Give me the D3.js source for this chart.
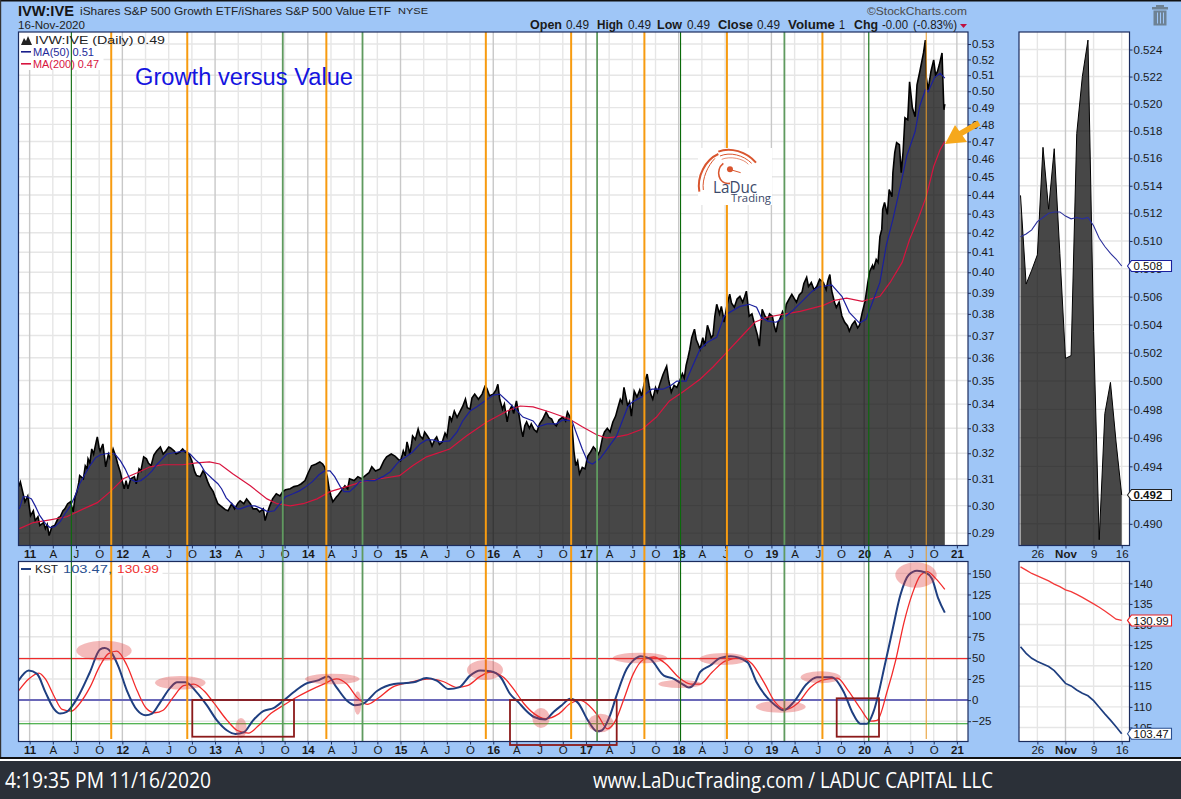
<!DOCTYPE html>
<html lang="en">

<head>
    <meta charset="utf-8">
    <title>IVW:IVE Growth versus Value</title>
    <script src="https://cdn.jsdelivr.net/npm/d3@7"></script>
    <style>
        body { margin: 0; background: #9fc6f7; overflow: hidden; }
        svg { display: block; font-family: "Liberation Sans", Arial, sans-serif; }
        .domain { display: none; }
    </style>
</head>

<body>
    <div id="chart"></div>

    <script>
        // [decimal year, value]
        const pricePoints = [
            [2010.88,.3071],[2010.90,.3089],[2010.95,.3014],[2010.98,.3036],[2011.01,.2963],[2011.04,.2981],[2011.06,.2945],[2011.09,.2959],[2011.11,.2927],[2011.15,.2938],[2011.17,.2916],[2011.19,.2931],[2011.21,.2891],[2011.24,.2923],[2011.27,.2927],[2011.31,.2956],[2011.33,.2959],[2011.36,.2981],[2011.38,.2988],[2011.41,.3007],[2011.44,.3014],[2011.47,.2977],[2011.49,.3033],[2011.51,.3052],[2011.53,.3086],[2011.54,.3113],[2011.58,.3101],[2011.60,.3151],[2011.62,.3139],[2011.63,.3178],[2011.65,.3162],[2011.67,.3217],[2011.69,.3197],[2011.72,.3249],[2011.73,.3265],[2011.75,.3221],[2011.76,.3209],[2011.79,.3237],[2011.81,.3178],[2011.82,.3147],[2011.85,.3197],[2011.87,.3178],[2011.90,.3217],[2011.93,.3186],[2011.95,.3158],[2011.98,.3124],
            [2012.00,.3090],[2012.02,.3063],[2012.04,.3094],[2012.06,.3063],[2012.09,.3101],[2012.13,.3109],[2012.15,.3082],[2012.18,.3139],[2012.20,.3131],[2012.23,.3186],[2012.26,.3178],[2012.28,.3162],[2012.31,.3151],[2012.34,.3193],[2012.37,.3209],[2012.41,.3225],[2012.44,.3197],[2012.47,.3209],[2012.50,.3225],[2012.52,.3221],[2012.56,.3209],[2012.58,.3197],[2012.62,.3205],[2012.65,.3217],[2012.68,.3205],[2012.72,.3197],[2012.75,.3170],[2012.78,.3128],[2012.80,.3113],[2012.84,.3109],[2012.87,.3131],[2012.89,.3120],[2012.92,.3090],[2012.94,.3074],[2012.98,.3052],
            [2013.00,.3033],[2013.03,.3007],[2013.07,.2996],[2013.11,.2985],[2013.14,.2981],[2013.18,.3007],[2013.21,.2988],[2013.25,.3011],[2013.27,.3018],[2013.31,.3007],[2013.34,.3025],[2013.38,.3007],[2013.41,.2988],[2013.45,.2988],[2013.48,.2977],[2013.52,.2988],[2013.54,.2945],[2013.56,.2970],[2013.59,.2999],[2013.62,.3025],[2013.66,.3044],[2013.70,.3036],[2013.73,.3052],[2013.76,.3059],[2013.81,.3063],[2013.85,.3071],[2013.89,.3074],[2013.93,.3082],[2013.97,.3094],
            [2014.00,.3120],[2014.04,.3151],[2014.09,.3158],[2014.13,.3166],[2014.16,.3158],[2014.18,.3147],[2014.21,.3109],[2014.23,.3063],[2014.25,.3036],[2014.27,.3014],[2014.31,.3033],[2014.32,.3036],[2014.36,.3055],[2014.40,.3074],[2014.43,.3063],[2014.45,.3101],[2014.50,.3094],[2014.54,.3109],[2014.58,.3101],[2014.62,.3113],[2014.66,.3124],[2014.69,.3147],[2014.73,.3131],[2014.78,.3139],[2014.82,.3170],[2014.85,.3186],[2014.90,.3197],[2014.94,.3189],[2014.97,.3178],
            [2015.00,.3170],[2015.02,.3195],[2015.03,.3209],[2015.05,.3190],[2015.07,.3245],[2015.09,.3215],[2015.10,.3197],[2015.12,.3240],[2015.13,.3269],[2015.16,.3255],[2015.19,.3297],[2015.21,.3270],[2015.24,.3257],[2015.26,.3285],[2015.29,.3269],[2015.32,.3250],[2015.34,.3229],[2015.37,.3255],[2015.39,.3265],[2015.42,.3235],[2015.45,.3245],[2015.48,.3280],[2015.50,.3265],[2015.52,.3320],[2015.53,.3350],[2015.55,.3330],[2015.58,.3371],[2015.61,.3345],[2015.64,.3367],[2015.67,.3390],[2015.70,.3421],[2015.72,.3385],[2015.75,.3379],[2015.77,.3425],[2015.80,.3442],[2015.84,.3420],[2015.88,.3442],[2015.91,.3475],[2015.93,.3467],[2015.96,.3435],
            [2016.00,.3442],[2016.03,.3460],[2016.05,.3484],[2016.07,.3420],[2016.10,.3379],[2016.12,.3400],[2016.15,.3326],[2016.17,.3370],[2016.20,.3392],[2016.22,.3360],[2016.25,.3413],[2016.28,.3350],[2016.30,.3300],[2016.32,.3265],[2016.34,.3310],[2016.36,.3326],[2016.39,.3300],[2016.41,.3318],[2016.44,.3295],[2016.47,.3285],[2016.50,.3318],[2016.53,.3335],[2016.57,.3367],[2016.60,.3345],[2016.63,.3338],[2016.65,.3320],[2016.68,.3310],[2016.71,.3335],[2016.75,.3346],[2016.78,.3330],[2016.80,.3367],[2016.83,.3345],[2016.85,.3310],[2016.87,.3209],[2016.89,.3151],[2016.91,.3170],[2016.93,.3120],[2016.96,.3145],[2016.99,.3139],
            [2017.02,.3189],[2017.05,.3205],[2017.08,.3225],[2017.10,.3217],[2017.13,.3195],[2017.15,.3209],[2017.18,.3265],[2017.20,.3285],[2017.23,.3300],[2017.26,.3285],[2017.29,.3326],[2017.32,.3350],[2017.34,.3379],[2017.37,.3420],[2017.39,.3405],[2017.41,.3471],[2017.43,.3430],[2017.45,.3392],[2017.47,.3410],[2017.49,.3350],[2017.51,.3420],[2017.52,.3455],[2017.55,.3430],[2017.58,.3460],[2017.60,.3434],[2017.63,.3490],[2017.66,.3528],[2017.68,.3480],[2017.70,.3440],[2017.72,.3421],[2017.75,.3470],[2017.77,.3450],[2017.80,.3490],[2017.83,.3525],[2017.87,.3563],[2017.89,.3505],[2017.92,.3450],[2017.95,.3480],[2017.98,.3470],
            [2018.01,.3498],[2018.04,.3530],[2018.06,.3510],[2018.08,.3566],[2018.10,.3600],[2018.12,.3638],[2018.14,.3690],[2018.17,.3729],[2018.19,.3680],[2018.21,.3660],[2018.23,.3638],[2018.26,.3690],[2018.28,.3652],[2018.31,.3747],[2018.33,.3720],[2018.35,.3690],[2018.37,.3701],[2018.39,.3790],[2018.41,.3845],[2018.44,.3800],[2018.46,.3835],[2018.48,.3790],[2018.49,.3761],[2018.52,.3840],[2018.55,.3893],[2018.57,.3850],[2018.60,.3831],[2018.63,.3870],[2018.66,.3883],[2018.69,.3855],[2018.71,.3880],[2018.73,.3908],[2018.75,.3830],[2018.76,.3789],[2018.79,.3800],[2018.82,.3747],[2018.85,.3700],[2018.87,.3652],[2018.89,.3760],[2018.90,.3821],[2018.93,.3790],[2018.96,.3775],[2018.98,.3800],
            [2019.01,.3789],[2019.03,.3745],[2019.05,.3715],[2019.07,.3760],[2019.09,.3775],[2019.12,.3810],[2019.14,.3790],[2019.16,.3845],[2019.19,.3870],[2019.22,.3893],[2019.25,.3870],[2019.27,.3855],[2019.30,.3890],[2019.33,.3903],[2019.35,.3945],[2019.38,.3975],[2019.40,.3930],[2019.43,.3950],[2019.46,.3915],[2019.49,.3931],[2019.52,.3965],[2019.56,.3950],[2019.59,.3915],[2019.61,.3960],[2019.63,.3989],[2019.65,.3910],[2019.68,.3855],[2019.70,.3830],[2019.73,.3855],[2019.76,.3790],[2019.79,.3761],[2019.82,.3745],[2019.84,.3720],[2019.87,.3750],[2019.90,.3766],[2019.93,.3735],[2019.95,.3747],[2019.98,.3807],
            [2020.01,.3860],[2020.04,.3950],[2020.06,.4004],[2020.09,.4034],[2020.10,.4014],[2020.13,.4064],[2020.15,.4049],[2020.17,.4180],[2020.19,.4217],[2020.20,.4322],[2020.22,.4359],[2020.25,.4296],[2020.27,.4429],[2020.30,.4391],[2020.31,.4523],[2020.33,.4636],[2020.35,.4693],[2020.38,.4681],[2020.40,.4523],[2020.42,.4641],[2020.44,.4839],[2020.47,.4827],[2020.49,.5058],[2020.52,.4899],[2020.55,.4845],[2020.57,.5040],[2020.60,.5122],[2020.64,.5242],[2020.66,.5326],[2020.67,.5087],[2020.69,.5009],[2020.72,.5122],[2020.75,.5197],[2020.77,.5100],[2020.79,.5122],[2020.81,.5164],[2020.84,.5242],[2020.85,.5053],[2020.86,.4887],[2020.87,.4922]
        ];

        const ma50Points = [
            [2010.89,.2988],[2010.93,.3033],[2010.97,.3033],[2011.02,.3025],[2011.06,.2999],[2011.11,.2963],[2011.17,.2934],[2011.22,.2920],[2011.27,.2923],[2011.33,.2941],[2011.38,.2970],[2011.44,.2999],[2011.49,.3036],[2011.54,.3082],[2011.60,.3120],[2011.65,.3151],[2011.71,.3182],[2011.76,.3193],[2011.81,.3197],[2011.87,.3201],[2011.92,.3197],[2011.98,.3170],
            [2012.03,.3139],[2012.08,.3101],[2012.14,.3090],[2012.20,.3094],[2012.27,.3113],[2012.32,.3131],[2012.37,.3155],[2012.43,.3178],[2012.48,.3197],[2012.54,.3201],[2012.60,.3205],[2012.68,.3209],[2012.73,.3197],[2012.79,.3174],[2012.84,.3158],[2012.89,.3128],[2012.97,.3101],
            [2013.03,.3082],[2013.07,.3063],[2013.12,.3029],[2013.18,.3007],[2013.24,.2988],[2013.27,.2988],[2013.36,.2999],[2013.43,.2999],[2013.51,.2988],[2013.57,.2977],[2013.64,.2981],[2013.70,.3007],[2013.76,.3033],[2013.84,.3044],[2013.91,.3055],[2013.98,.3071],
            [2014.05,.3090],[2014.12,.3116],[2014.18,.3131],[2014.24,.3131],[2014.29,.3109],[2014.35,.3071],[2014.39,.3052],[2014.45,.3052],[2014.51,.3071],[2014.56,.3090],[2014.64,.3094],[2014.72,.3094],[2014.81,.3109],[2014.89,.3128],[2014.96,.3158],[2014.99,.3170],
            [2015.07,.3189],[2015.13,.3205],[2015.21,.3237],[2015.28,.3253],[2015.35,.3253],[2015.42,.3245],[2015.53,.3249],[2015.61,.3285],[2015.67,.3330],[2015.75,.3371],[2015.82,.3388],[2015.91,.3413],
            [2016.00,.3438],[2016.07,.3442],[2016.15,.3413],[2016.24,.3379],[2016.32,.3346],[2016.43,.3330],[2016.48,.3306],[2016.58,.3318],[2016.68,.3318],[2016.75,.3334],[2016.85,.3330],[2016.90,.3277],[2016.96,.3217],
            [2017.02,.3166],[2017.07,.3158],[2017.15,.3178],[2017.23,.3217],[2017.33,.3269],[2017.40,.3338],[2017.45,.3388],[2017.50,.3409],[2017.60,.3430],[2017.71,.3463],[2017.83,.3463],[2017.90,.3475],[2017.98,.3498],
            [2018.08,.3498],[2018.15,.3563],[2018.23,.3638],[2018.31,.3669],[2018.41,.3692],[2018.49,.3789],[2018.55,.3807],[2018.66,.3835],[2018.76,.3845],[2018.84,.3831],[2018.89,.3784],[2018.96,.3766],
            [2019.05,.3761],[2019.14,.3784],[2019.22,.3812],[2019.33,.3859],[2019.44,.3908],[2019.51,.3928],[2019.65,.3938],[2019.76,.3883],[2019.84,.3807],[2019.95,.3757],
            [2020.02,.3775],[2020.09,.3855],[2020.17,.3950],[2020.24,.4138],[2020.31,.4269],[2020.39,.4445],[2020.46,.4617],[2020.55,.4758],[2020.60,.4910],[2020.66,.5009],[2020.69,.4997],[2020.76,.5087],[2020.82,.5112],[2020.87,.5082]
        ];

        const ma200Points = [
            [2010.89,.2916],[2011.04,.2938],[2011.22,.2948],[2011.40,.2959],[2011.58,.2988],[2011.73,.3011],[2011.87,.3052],[2012.01,.3101],[2012.16,.3124],[2012.30,.3147],[2012.44,.3155],[2012.65,.3155],[2012.80,.3162],[2012.94,.3166],[2013.05,.3158],[2013.19,.3120],[2013.38,.3074],[2013.56,.3025],[2013.67,.3007],[2013.81,.2999],[2013.95,.3007],[2014.10,.3025],[2014.24,.3052],[2014.42,.3071],[2014.59,.3090],[2014.78,.3101],[2014.99,.3113],[2015.13,.3151],[2015.28,.3186],[2015.53,.3217],[2015.71,.3269],[2015.93,.3326],[2016.15,.3371],[2016.29,.3392],[2016.43,.3388],[2016.61,.3367],[2016.82,.3338],[2016.96,.3306],[2017.12,.3273],[2017.22,.3261],[2017.33,.3265],[2017.44,.3273],[2017.61,.3297],[2017.76,.3346],[2017.90,.3413],[2018.04,.3450],[2018.23,.3506],[2018.37,.3559],[2018.52,.3625],[2018.69,.3701],[2018.82,.3761],[2018.95,.3784],[2019.12,.3798],[2019.31,.3812],[2019.56,.3840],[2019.68,.3864],[2019.81,.3874],[2019.98,.3859],[2020.17,.3883],[2020.28,.3950],[2020.41,.4049],[2020.49,.4165],[2020.58,.4269],[2020.67,.4391],[2020.75,.4557],[2020.82,.4653],[2020.87,.4700]
        ];

        const kstPoints = [
            [2010.88,23],[2010.99,35],[2011.08,31],[2011.17,9.5],[2011.26,-10],[2011.33,-16],[2011.40,-14],[2011.51,1.6],[2011.65,33],[2011.76,60],[2011.81,61.6],[2011.89,55],[2011.96,39],[2012.05,11],[2012.16,-12],[2012.25,-18],[2012.32,-16],[2012.41,-2.4],[2012.52,15],[2012.59,21],[2012.68,21],[2012.80,9.5],[2012.91,-6],[2013.02,-24],[2013.13,-36],[2013.22,-40],[2013.31,-38],[2013.41,-24],[2013.52,-13],[2013.63,-9.5],[2013.74,-.4],[2013.85,9.5],[2013.97,19],[2014.10,23],[2014.22,28],[2014.31,15],[2014.42,-.4],[2014.51,-6],[2014.60,-4],[2014.75,11],[2014.93,19],[2015.14,21],[2015.28,26],[2015.39,23],[2015.52,13],[2015.63,15],[2015.75,29],[2015.86,35],[2015.97,34],
            [2016.08,27],[2016.18,7.5],[2016.27,-2.4],[2016.35,-12],[2016.44,-20],[2016.56,-23],[2016.65,-14],[2016.74,-6],[2016.83,1.6],[2016.92,-4],[2017.01,-22],[2017.12,-37],[2017.17,-36],[2017.26,-18],[2017.33,5.5],[2017.44,37],[2017.51,47],[2017.59,52],[2017.69,49],[2017.84,29],[2017.93,26],[2018.04,19],[2018.11,15],[2018.18,21],[2018.23,33],[2018.34,41],[2018.45,50],[2018.56,52],[2018.74,45],[2018.84,21],[2018.95,3.5],[2019.04,-6],[2019.13,-12],[2019.24,-2.4],[2019.38,19],[2019.49,27],[2019.65,27],[2019.78,9.5],[2019.87,-14],[2019.96,-28],[2020.03,-28],[2020.10,-14],[2020.23,45],[2020.30,80],[2020.39,124],[2020.48,148],[2020.57,153],[2020.66,151],[2020.73,144],[2020.80,120],[2020.87,103.47]
        ];

        const signalPoints = [
            [2010.88,11],[2010.99,25],[2011.10,32],[2011.17,25],[2011.26,5.5],[2011.35,-11],[2011.45,-13],[2011.54,-4],[2011.65,15],[2011.76,41],[2011.85,55],[2011.94,58],[2012.05,41],[2012.16,11],[2012.26,-10],[2012.35,-15],[2012.44,-12],[2012.55,3.5],[2012.66,17],[2012.77,19],[2012.88,11],[2012.98,-2.4],[2013.13,-24],[2013.24,-36],[2013.36,-39],[2013.47,-30],[2013.60,-16],[2013.74,-6],[2013.85,1.6],[2014.01,11],[2014.17,19],[2014.31,25],[2014.42,19],[2014.53,3.5],[2014.64,-5],[2014.75,1.6],[2014.91,15],[2015.10,21],[2015.32,25],[2015.46,22],[2015.61,15],[2015.72,17],[2015.86,28],[2015.97,33],
            [2016.11,27],[2016.22,13],[2016.33,-4],[2016.44,-16],[2016.56,-22],[2016.71,-16],[2016.83,-4],[2016.94,-.4],[2017.03,-6],[2017.14,-20],[2017.23,-34],[2017.32,-24],[2017.41,1.6],[2017.51,31],[2017.62,48],[2017.73,51],[2017.86,43],[2018.00,27],[2018.13,19],[2018.23,19],[2018.36,33],[2018.50,46],[2018.67,50],[2018.79,43],[2018.92,21],[2019.04,-2.4],[2019.15,-11],[2019.28,-4],[2019.42,15],[2019.56,24],[2019.71,26],[2019.83,11],[2019.96,-10],[2020.07,-25],[2020.14,-24],[2020.25,11],[2020.34,47],[2020.43,92],[2020.52,126],[2020.61,148],[2020.68,152],[2020.77,144],[2020.87,130.99]
        ];

        const kstUpper = 49;
        const kstZero = 0;
        const kstLower = -28;

        const orangeYears = [2011.88, 2012.70, 2014.20, 2015.92, 2016.84, 2017.63, 2018.52, 2019.55];
        const lastOrangeYear = 2020.67;
        const darkGreenYears = [2011.45, 2018.02, 2020.05];
        const paleGreenYears = [2013.73, 2014.59, 2017.12, 2019.14];

        const tickLabels = [
            "11","A","J","O","12","A","J","O","13","A","J","O","14","A","J","O","15","A","J","O",
            "16","A","J","O","17","A","J","O","18","A","J","O","19","A","J","O","20","A","J","O","21"
        ];
        const priceTicks = [.29,.30,.31,.32,.33,.34,.35,.36,.37,.38,.39,.40,.41,.42,.43,.44,.45,.46,.47,.48,.49,.50,.51,.52,.53];
        const kstTicks = [-25,0,25,50,75,100,125,150];

        // zoomed window, last 19 trading days
        const insetDays = ["Oct 21","Oct 22","Oct 23","Oct 26","Oct 27","Oct 28","Oct 29","Oct 30","Nov 2","Nov 3","Nov 4","Nov 5","Nov 6","Nov 9","Nov 10","Nov 11","Nov 12","Nov 13","Nov 16"];
        const insetPrice = [.5133,.5069,.5079,.5090,.5168,.5123,.5167,.5091,.5016,.5018,.5178,.5220,.5247,.5035,.4889,.4977,.4999,.4957,.4920];
        const insetMa50 = [.5103,.5105,.5108,.5114,.5117,.5120,.5121,.5121,.5118,.5116,.5117,.5116,.5117,.5111,.5102,.5096,.5091,.5087,.5082];
        const insetKst = [124.6,123,121.8,121,120.4,119.8,118.8,117.3,115.7,115.1,114.1,113.3,112.7,111.5,109.9,108.3,106.8,105.2,103.47];
        const insetSignal = [144,143.2,142.4,141.8,141.2,140.6,139.8,139.2,138.4,138,137.3,136.6,135.8,135,134.2,133.3,132.3,131.3,130.99];
        const insetTickDays = ["Oct 26","Nov 2","Nov 9","Nov 16"];
        const insetTickLabels = ["26","Nov","9","16"];
        const insetPriceTicks = [.490,.492,.494,.496,.498,.500,.502,.504,.506,.508,.510,.512,.514,.516,.518,.520,.522,.524];
        const insetKstTicks = [105,110,115,120,125,130,135,140];

        const width = 1181;
        const height = 799;
        const frameColor = "#1b2c5e";
        const left = 18.5, right = 968, insetLeft = 1019, insetRight = 1129.5;
        const priceTop = 32, priceBottom = 545.5, kstTop = 561.5, kstBottom = 741.5;

        const x = d3.scaleLinear().domain([2010.88, 2021.12]).range([left, right]);
        const yPrice = d3.scaleLog().domain([.2856, .5379]).range([priceBottom, priceTop]);
        const yKst = d3.scaleLinear().domain([-49, 164]).range([kstBottom, kstTop]);
        const xInset = d3.scalePoint().domain(insetDays).range([1020.5, 1121.7]);
        const yInsetPrice = d3.scaleLog().domain([.4885, .5253]).range([priceBottom, priceTop]);
        const yInsetKst = d3.scaleLinear().domain([101.6, 145.3]).range([kstBottom, kstTop]);
        const tickYears = tickLabels.map((d, i) => 2011 + i / 4);

        const svg = d3.select("#chart").append("svg")
            .attr("width", width).attr("height", height);

        svg.append("rect").attr("width", width).attr("height", height).attr("fill", "#9fc6f7");
        svg.append("rect").attr("width", width).attr("height", 1.5).attr("fill", "#111");
        svg.append("rect").attr("width", 1.2).attr("height", 758).attr("fill", "#333");

        const defs = svg.append("defs");
        function clip(id, x0, y0, x1, y1) {
            defs.append("clipPath").attr("id", id).append("rect")
                .attr("x", x0).attr("y", y0).attr("width", x1 - x0).attr("height", y1 - y0);
        }
        clip("clipPrice", left, priceTop, right, priceBottom);
        clip("clipKst", left, kstTop, right, kstBottom);
        clip("clipInsetPrice", insetLeft, priceTop, insetRight, priceBottom);
        clip("clipInsetKst", insetLeft, kstTop, insetRight, kstBottom);

        // white panels and grid
        function panel(x0, y0, x1, y1, xTicks, xPos, yTicks, yPos) {
            const g = svg.append("g");
            g.append("rect").attr("x", x0).attr("y", y0).attr("width", x1 - x0).attr("height", y1 - y0).attr("fill", "white");
            g.selectAll(".h").data(yTicks).enter().append("line")
                .attr("x1", x0).attr("x2", x1)
                .attr("y1", yPos).attr("y2", yPos)
                .attr("stroke", "#e6e6e6").attr("stroke-width", 1.4);
            g.selectAll(".v").data(xTicks).enter().append("line")
                .attr("x1", d => xPos(d)).attr("x2", d => xPos(d))
                .attr("y1", y0).attr("y2", y1)
                .attr("stroke", (d, i) => xPos.bold(d, i) ? "#c8c8c8" : "#e6e6e6").attr("stroke-width", 1.4);
        }
        const xGrid = d => x(d);
        xGrid.bold = (d, i) => i % 4 === 0;
        const xGridInset = d => xInset(d);
        xGridInset.bold = d => d === "Nov 2";
        panel(left, priceTop, right, priceBottom, tickYears, xGrid, priceTicks, yPrice);
        panel(left, kstTop, right, kstBottom, tickYears, xGrid, kstTicks, yKst);
        panel(insetLeft, priceTop, insetRight, priceBottom, insetTickDays, xGridInset, insetPriceTicks, yInsetPrice);
        panel(insetLeft, kstTop, insetRight, kstBottom, insetTickDays, xGridInset, insetKstTicks, yInsetKst);

        // white patches behind the legends
        svg.append("rect").attr("x", left).attr("y", priceTop).attr("width", 85).attr("height", 38).attr("fill", "white");
        svg.append("rect").attr("x", left).attr("y", kstTop).attr("width", 144).attr("height", 14).attr("fill", "white");

        // main price area
        const mainPlot = svg.append("g").attr("clip-path", "url(#clipPrice)");
        mainPlot.append("path").datum(pricePoints)
            .attr("d", d3.area().x(d => x(d[0])).y0(priceBottom).y1(d => yPrice(d[1])))
            .attr("fill", "black").attr("fill-opacity", .72);
        mainPlot.append("path").datum(pricePoints)
            .attr("d", d3.line().x(d => x(d[0])).y(d => yPrice(d[1])))
            .attr("fill", "none").attr("stroke", "black").attr("stroke-width", 1.6);

        // KST horizontal levels
        svg.append("g").selectAll("line")
            .data([[kstUpper, "#ee2b2b", 1.2], [kstZero, "#6a68b8", 2], [kstLower, "#1c9a1c", 1.2]])
            .enter().append("line")
            .attr("x1", left).attr("x2", right)
            .attr("y1", d => yKst(d[0])).attr("y2", d => yKst(d[0]))
            .attr("stroke", d => d[1]).attr("stroke-width", d => d[2]);

        // axes
        function styleLabels(g, size) {
            g.selectAll("text").attr("font-size", size).attr("fill", "#1a1a1a");
            g.selectAll(".tick line").attr("stroke", frameColor);
        }
        function timeAxis(y) {
            const g = svg.append("g").attr("transform", `translate(0,${y})`)
                .call(d3.axisBottom(x).tickValues(tickYears).tickFormat((d, i) => tickLabels[i]).tickSize(3).tickPadding(1));
            styleLabels(g, 11.5);
            g.selectAll("text").attr("font-weight", (d, i) => i % 4 === 0 ? "bold" : "normal");
        }
        timeAxis(priceBottom);
        timeAxis(kstBottom);

        function insetTimeAxis(y) {
            const g = svg.append("g").attr("transform", `translate(0,${y})`)
                .call(d3.axisBottom(xInset).tickValues(insetTickDays)
                    .tickFormat((d, i) => insetTickLabels[i]).tickSize(3).tickPadding(1));
            styleLabels(g, 11.5);
            g.selectAll("text").attr("font-weight", d => d === "Nov 2" ? "bold" : "normal");
        }
        insetTimeAxis(priceBottom);
        insetTimeAxis(kstBottom);

        function valueAxis(xPos, scale, ticks, fmt, size) {
            const g = svg.append("g").attr("transform", `translate(${xPos},0)`)
                .call(d3.axisRight(scale).tickValues(ticks).tickFormat(fmt).tickSize(3).tickPadding(1));
            styleLabels(g, size);
        }
        valueAxis(right, yPrice, priceTicks, d3.format(".2f"), 11.5);
        valueAxis(right, yKst, kstTicks, d3.format("d"), 11.5);
        valueAxis(insetRight, yInsetPrice, insetPriceTicks, d3.format(".3f"), 11.5);
        valueAxis(insetRight, yInsetKst, insetKstTicks, d3.format("d"), 11.5);

        // moving averages
        const line = d3.line().x(d => x(d[0]));
        mainPlot.append("path").datum(ma200Points)
            .attr("d", line.y(d => yPrice(d[1])))
            .attr("fill", "none").attr("stroke", "#d8143f").attr("stroke-width", 1.2);
        mainPlot.append("path").datum(ma50Points)
            .attr("d", line.y(d => yPrice(d[1])))
            .attr("fill", "none").attr("stroke", "#1a1f9c").attr("stroke-width", 1.2);

        // KST
        const kstPlot = svg.append("g").attr("clip-path", "url(#clipKst)");
        const kstLine = d3.line().x(d => x(d[0])).y(d => yKst(d[1])).curve(d3.curveMonotoneX);
        kstPlot.append("path").datum(signalPoints).attr("d", kstLine)
            .attr("fill", "none").attr("stroke", "#f32a2a").attr("stroke-width", 1.3);
        kstPlot.append("path").datum(kstPoints).attr("d", kstLine)
            .attr("fill", "none").attr("stroke", "#1f3f80").attr("stroke-width", 2);

        // vertical marker lines
        function marker(year, color, w, opacity, bottom) {
            svg.append("line")
                .attr("x1", x(year)).attr("x2", x(year))
                .attr("y1", priceTop).attr("y2", bottom)
                .attr("stroke", color).attr("stroke-width", w).attr("stroke-opacity", opacity);
        }
        orangeYears.forEach(d => marker(d, "#f79b10", 2, 1, 739));
        marker(lastOrangeYear, "#e89a2a", 1.2, .85, 739);
        darkGreenYears.forEach(d => marker(d, "#0a6a0a", 1.1, 1, 742));
        paleGreenYears.forEach(d => marker(d, "#5f9a5f", 1.8, 1, 742));

        // hand drawn notes on the KST panel
        const ellipses = [
            [104,650.7,27.7,10],[180.3,682.7,25.3,6.7],[241,728,5.7,10],[332.3,679,27.3,5.3],[357.7,703,3.7,11.7],
            [485,670,18,10],[541,718,8.7,10],[600.7,723,12.7,9.3],[640,658,27.3,5.3],[680,684,21.7,4],
            [723.3,659,24,6],[780.7,706.7,25,6],[820.7,677.3,20,6],[916,575,20.7,12.7]
        ];
        svg.append("g").selectAll("ellipse").data(ellipses).enter().append("ellipse")
            .attr("cx", d => d[0]).attr("cy", d => d[1]).attr("rx", d => d[2]).attr("ry", d => d[3])
            .attr("fill", "#e03a3a").attr("fill-opacity", .35);

        const boxes = [[192.3,700,294,736.7],[510,700,616.7,745],[836.7,698.3,879,736.7]];
        svg.append("g").selectAll("rect").data(boxes).enter().append("rect")
            .attr("x", d => d[0]).attr("y", d => d[1])
            .attr("width", d => d[2] - d[0]).attr("height", d => d[3] - d[1])
            .attr("fill", "none").attr("stroke", "#8c1a1a").attr("stroke-width", 1.8);

        // insets
        const insetPricePlot = svg.append("g").attr("clip-path", "url(#clipInsetPrice)");
        insetPricePlot.append("path").datum(insetPrice)
            .attr("d", d3.area().x((d, i) => xInset(insetDays[i])).y0(priceBottom).y1(d => yInsetPrice(d)))
            .attr("fill", "black").attr("fill-opacity", .72);
        insetPricePlot.append("path").datum(insetPrice)
            .attr("d", d3.line().x((d, i) => xInset(insetDays[i])).y(d => yInsetPrice(d)))
            .attr("fill", "none").attr("stroke", "black").attr("stroke-width", 1);
        insetPricePlot.append("path").datum(insetMa50)
            .attr("d", d3.line().x((d, i) => xInset(insetDays[i])).y(d => yInsetPrice(d)))
            .attr("fill", "none").attr("stroke", "#2a2f9c").attr("stroke-width", 1.1);

        const insetKstPlot = svg.append("g").attr("clip-path", "url(#clipInsetKst)");
        insetKstPlot.append("path").datum(insetSignal)
            .attr("d", d3.line().x((d, i) => xInset(insetDays[i])).y(d => yInsetKst(d)))
            .attr("fill", "none").attr("stroke", "#f33a3a").attr("stroke-width", 1.3);
        insetKstPlot.append("path").datum(insetKst)
            .attr("d", d3.line().x((d, i) => xInset(insetDays[i])).y(d => yInsetKst(d)))
            .attr("fill", "none").attr("stroke", "#1f3f80").attr("stroke-width", 1.7);

        // panel frames
        [[left, priceTop, right, priceBottom], [left, kstTop, right, kstBottom],
         [insetLeft, priceTop, insetRight, priceBottom], [insetLeft, kstTop, insetRight, kstBottom]].forEach(d => {
            svg.append("rect").attr("x", d[0]).attr("y", d[1]).attr("width", d[2] - d[0]).attr("height", d[3] - d[1])
                .attr("fill", "none").attr("stroke", frameColor).attr("stroke-width", 1.2);
        });

        // last value tags
        function tag(y, label, color, bold) {
            const g = svg.append("g").attr("transform", `translate(1127.5,${y})`);
            g.append("path").attr("d", "M0,0 L4,-5.5 H44 V5.5 H4 Z")
                .attr("fill", "white").attr("stroke", color).attr("stroke-width", 1.1);
            g.append("text").attr("x", 6).attr("y", 4.2).attr("font-size", 11.5)
                .attr("font-weight", bold ? "bold" : "normal").attr("fill", "#111").text(label);
        }
        tag(yInsetPrice(insetMa50[18]), "0.508", "#1a1f9c", false);
        tag(yInsetPrice(insetPrice[18]), "0.492", "#222", true);
        tag(yInsetKst(insetSignal[18]), "130.99", "#ee2222", false);
        tag(yInsetKst(insetKst[18]), "103.47", "#2a4f90", false);

        // text helper
        function text(xp, yp, str, size, color, opts) {
            const t = svg.append("text").attr("x", xp).attr("y", yp)
                .attr("font-size", size).attr("fill", color).text(str);
            if (opts && opts.bold) t.attr("font-weight", "bold");
            if (opts && opts.len) t.attr("textLength", opts.len).attr("lengthAdjust", "spacingAndGlyphs");
            if (opts && opts.family) t.attr("font-family", opts.family);
            return t;
        }

        // header
        text(18, 16, "IVW:IVE", 15, "#151515", { bold: true, len: 56 });
        text(80, 15, "iShares S&P 500 Growth ETF/iShares S&P 500 Value ETF", 11.5, "#222", { len: 311 });
        text(398, 14, "NYSE", 9, "#222", { len: 30 });
        text(18, 29, "16-Nov-2020", 10.5, "#222", { len: 67 });
        text(867, 15, "©StockCharts.com", 11, "#4a4a4a", { len: 100 });

        const quote = [
            [530, "Open", true, 32], [566, "0.49", false, 23], [597, "High", true, 26], [628, "0.49", false, 23],
            [657, "Low", true, 25], [687, "0.49", false, 23], [718, "Close", true, 35], [757, "0.49", false, 23],
            [788, "Volume", true, 47], [839, "1", false, 6], [854, "Chg", true, 24], [882, "-0.00", false, 26], [913, "(-0.83%)", false, 44]
        ];
        quote.forEach(d => text(d[0], 29, d[1], 12, "#1a1a1a", { bold: d[2], len: d[3] }));
        svg.append("path").attr("d", "M960,24 H967 L963.5,28 Z").attr("fill", "#c01040");

        // trash icon
        const trash = svg.append("g").attr("fill", "#6e8294");
        trash.append("rect").attr("x", 1156).attr("y", 5).attr("width", 8).attr("height", 2);
        trash.append("rect").attr("x", 1152).attr("y", 7).attr("width", 16).attr("height", 2.5);
        trash.append("rect").attr("x", 1153.5).attr("y", 10.5).attr("width", 13).attr("height", 15);
        [1157, 1160, 1163].forEach(d => {
            svg.append("rect").attr("x", d).attr("y", 12.5).attr("width", 1).attr("height", 11).attr("fill", "#9fc6f7");
        });

        // legends
        svg.append("path").attr("d", "M21,45 L24,38 L26,41 L28,36 L32,45 Z").attr("fill", "#222");
        text(35, 44, "IVW:IVE (Daily) 0.49", 11.5, "#222", { len: 130 });
        svg.append("rect").attr("x", 21).attr("y", 51).attr("width", 10).attr("height", 1.6).attr("fill", "#1a1f8c");
        text(33, 56, "MA(50) 0.51", 10.5, "#1e2a9a", { len: 61 });
        svg.append("rect").attr("x", 21).attr("y", 63).attr("width", 10).attr("height", 1.6).attr("fill", "#d8143f");
        text(33, 68, "MA(200) 0.47", 10.5, "#d8143f", { len: 66 });
        text(135, 85, "Growth versus Value", 23, "#1414e0", { len: 218 });

        svg.append("rect").attr("x", 21).attr("y", 568).attr("width", 10).attr("height", 2).attr("fill", "#1f3f80");
        text(35, 573, "KST", 11, "#222", { len: 23 });
        text(63, 573, "103.47,", 11, "#2a5090", { len: 49 });
        text(117, 573, "130.99", 11, "#f03030", { len: 42 });

        // orange arrow pointing at the 200 day average
        svg.append("line").attr("x1", 979).attr("y1", 123).attr("x2", 958).attr("y2", 135)
            .attr("stroke", "#f6a81c").attr("stroke-width", 5.5);
        svg.append("path").attr("d", "M945,144 L955,125 L967,142 Z").attr("fill", "#f6a81c");

        // logo
        svg.append("rect").attr("x", 698).attr("y", 148).attr("width", 74).attr("height", 57).attr("fill", "white");
        const logo = svg.append("g").attr("transform", "translate(680,130) scale(0.3333)")
            .attr("fill", "none").attr("stroke", "#d9552e");
        [["M58 185 C50 140 75 90 115 72", 6], ["M70 180 C65 145 85 105 105 85", 3],
         ["M115 65 C150 50 200 65 228 98", 6], ["M120 78 C150 65 190 75 215 100", 3],
         ["M125 88 C150 78 190 85 205 103", 2], ["M130 100 C105 120 115 165 150 160", 5],
         ["M155 120 L182 128", 3]].forEach(d => {
            logo.append("path").attr("d", d[0]).attr("stroke-width", d[1]);
        });
        logo.append("circle").attr("cx", 150).attr("cy", 118).attr("r", 9).attr("fill", "#d9552e").attr("stroke", "none");
        text(713, 193, "LaDuc", 16, "#3c4a6a", { family: "Open Sans", len: 44 });
        text(731, 202, "Trading", 11.5, "#3c4a6a", { family: "Open Sans", len: 40 });

        // footer
        svg.append("rect").attr("y", 757).attr("width", width).attr("height", 2).attr("fill", "#111");
        svg.append("rect").attr("y", 759).attr("width", width).attr("height", 2).attr("fill", "white");
        svg.append("rect").attr("y", 761).attr("width", width).attr("height", 38).attr("fill", "#2b3038");
        text(5, 788, "4:19:35 PM 11/16/2020", 21, "white", { family: "Open Sans", len: 206 });
        text(593, 788, "www.LaDucTrading.com / LADUC CAPITAL LLC", 21, "white", { family: "Open Sans", len: 400 });
    </script>
</body>

</html>
